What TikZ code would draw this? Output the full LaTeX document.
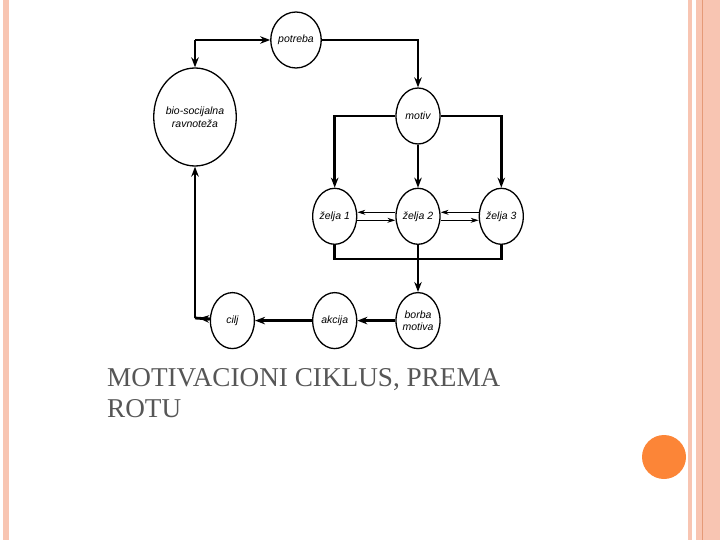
\documentclass[tikz,border=0pt]{standalone}
\usepackage{fontspec}
\setmainfont{Liberation Serif}
\setsansfont{Liberation Sans}
\usetikzlibrary{positioning, arrows.meta, shapes.geometric}
\definecolor{stripfill}{HTML}{F8C5B2}
\definecolor{stripline}{HTML}{E59A78}
\definecolor{dotfill}{HTML}{FC8537}
\definecolor{captext}{HTML}{565656}
\tikzset{
  cyc/.style={
    draw,
    ellipse,
    line width=1.3pt,
    inner sep=0pt,
    minimum width=44pt,
    minimum height=56pt,
    align=center,
    font=\sffamily\itshape\fontsize{10.5}{12.5}\selectfont
  },
  flow/.style={line width=2.8pt},
  arr/.style={flow, -{Stealth[length=10pt, width=7.5pt]}},
  thinarr/.style={line width=1pt, -{Stealth[length=8pt, width=5pt]}},
  capline/.style={font=\fontsize{27.2}{31}\selectfont, text=captext, align=left, inner sep=0pt}
}

\begin{document}
\begin{tikzpicture}[x=1pt, y=-1pt]
  \useasboundingbox (0,0) rectangle (720,540);

  % slide frame stripes and dot
  \fill[stripfill] (3,0) rectangle (9,540);
  \fill[stripfill] (688,0) rectangle (692,540);
  \fill[stripfill] (696,0) rectangle (720,540);
  \fill[stripline] (702,0) rectangle (703.2,540);
  \fill[dotfill] (664,457) circle (22);

  % motivation cycle
  \node[cyc] (potreba) at (296,40) {potreba};
  \node[cyc, minimum width=76pt, minimum height=98pt] (bio) at (195,117) {bio-socijalna\\ravnoteža};
  \node[cyc] (motiv) at (418,116) {motiv};
  \node[cyc, below=43pt of motiv] (zelja2) {želja 2};
  \node[cyc, left=38pt of zelja2] (zelja1) {želja 1};
  \node[cyc, right=38pt of zelja2] (zelja3) {želja 3};
  \node[cyc, below=47pt of zelja2] (borba) {borba\\motiva};
  \node[cyc, left=38pt of borba] (akcija) {akcija};
  \node[cyc, left=57pt of akcija] (cilj) {cilj};

  \coordinate (topleft) at (195,40);
  \coordinate (botleft) at (195,318);
  \coordinate (bar) at (418,259);

  \draw[arr] (topleft) -- (potreba);
  \draw[arr] (topleft) -- (bio);
  \draw[arr] (potreba) -| (motiv);
  \draw[arr] (motiv) -| (zelja1);
  \draw[arr] (motiv) -- (zelja2);
  \draw[arr] (motiv) -| (zelja3);

  \draw[thinarr] ([yshift=4pt]zelja2.west) -- ([yshift=4pt]zelja1.east);
  \draw[thinarr] ([yshift=-4pt]zelja1.east) -- ([yshift=-4pt]zelja2.west);
  \draw[thinarr] ([yshift=4pt]zelja3.west) -- ([yshift=4pt]zelja2.east);
  \draw[thinarr] ([yshift=-4pt]zelja2.east) -- ([yshift=-4pt]zelja3.west);

  \draw[flow] (zelja1) |- (bar) -| (zelja3);
  \draw[arr] (zelja2) -- (borba);
  \draw[arr] (borba) -- (akcija);
  \draw[arr] (akcija) -- (cilj);
  \draw[flow] (cilj) -- (botleft);
  \draw[arr, shorten >=4pt] (cilj) -- (botleft);
  \draw[arr] (botleft) -- (bio);

  \node[capline, anchor=north west] (caption) at (107,368) {MOTIVACIONI CIKLUS, PREMA\\ROTU};
\end{tikzpicture}
\end{document}
